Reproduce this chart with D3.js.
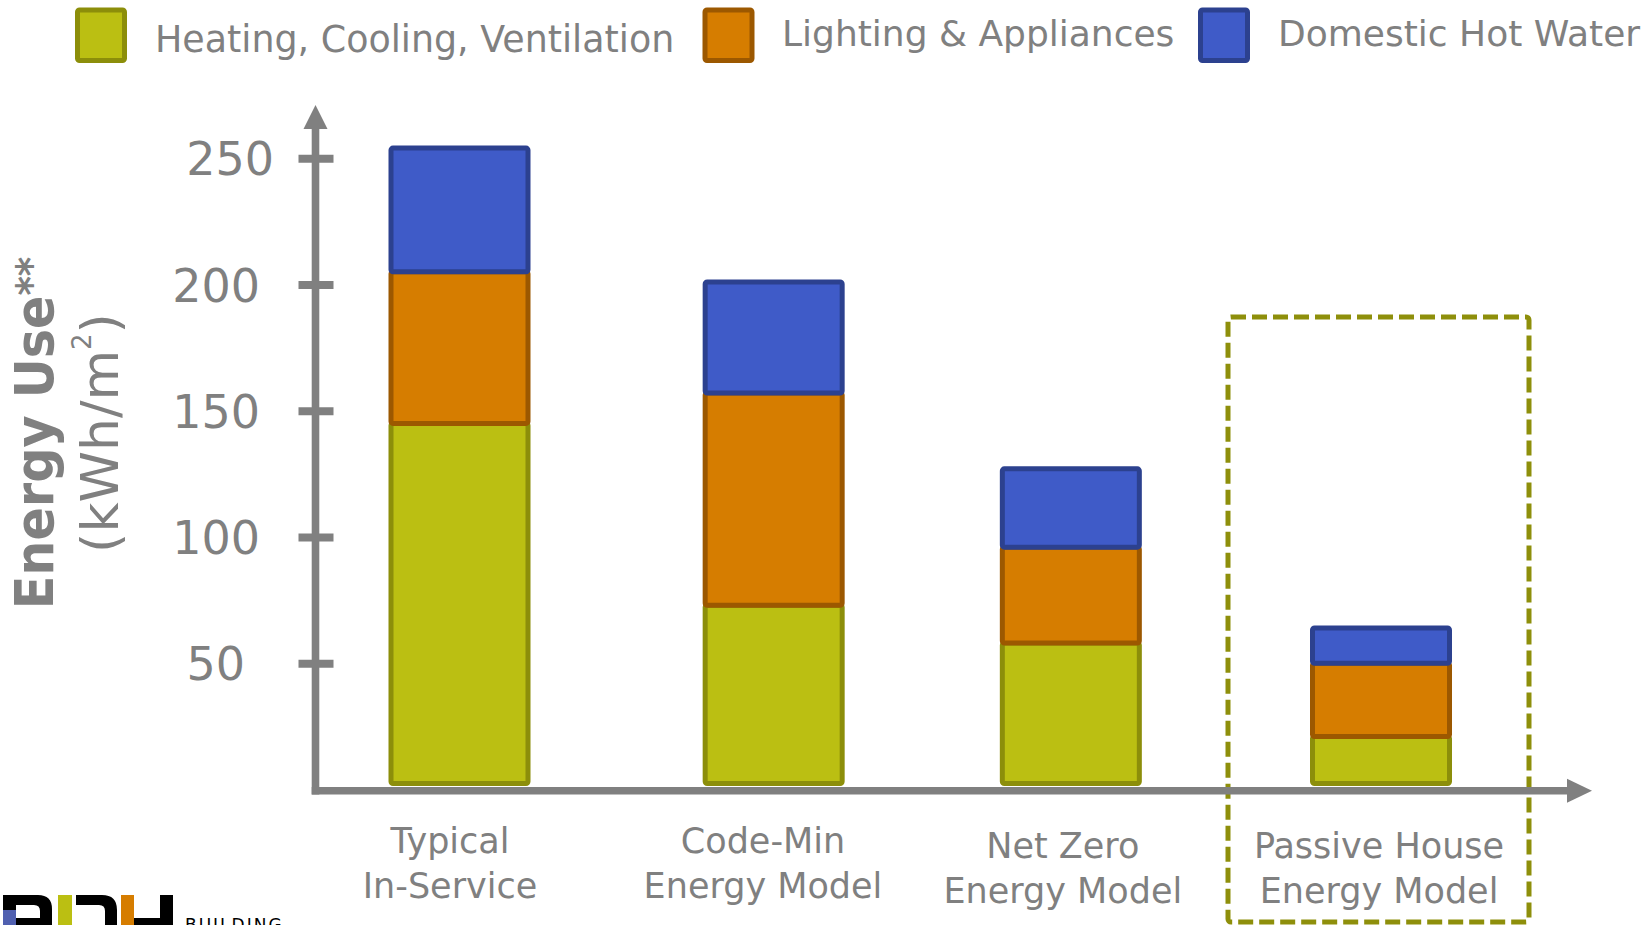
<!DOCTYPE html>
<html>
<head>
<meta charset="utf-8">
<script src="https://cdn.jsdelivr.net/npm/d3@7"></script>
<style>
  html, body { margin: 0; padding: 0; background: #ffffff; }
  svg { display: block; }
  text { font-family: "DejaVu Sans", "Lucida Grande", sans-serif; }
</style>
</head>
<body>
<svg id="chart" width="1652" height="925"></svg>
<script>
// ---------------- data ----------------
const categories = ["Typical In-Service", "Code-Min Energy Model", "Net Zero Energy Model", "Passive House Energy Model"];
const categoryLabelLines = [["Typical", "In-Service"], ["Code-Min", "Energy Model"], ["Net Zero", "Energy Model"], ["Passive House", "Energy Model"]];
const seriesNames = ["Heating, Cooling, Ventilation", "Lighting & Appliances", "Domestic Hot Water"];
const heatingCoolingVentilation = [145, 73, 58, 21];
const lightingAppliances = [60, 84, 38, 29];
const domesticHotWater = [49, 44, 31, 14];
const yTickValues = [50, 100, 150, 200, 250];
const highlightedCategory = "Passive House Energy Model";

// ---------------- styles ----------------
const fills = ["#BBBF12", "#D67D00", "#3F5BC8"];
const strokes = ["#8C8E0A", "#9C5800", "#2C418F"];
const gray = "#808080";
const barDx = [0, 7, -3, 0];        // hand placement nudges of the original drawing
const labelDx = [-9.5, -3.7, -11, -2];
const labelDy = [0, 0, 5, 5];

const svg = d3.select("#chart");

const rows = categories.map((c, i) => ({
  category: c,
  index: i,
  [seriesNames[0]]: heatingCoolingVentilation[i],
  [seriesNames[1]]: lightingAppliances[i],
  [seriesNames[2]]: domesticHotWater[i]
}));
const stacked = d3.stack().keys(seriesNames)(rows);

const axisX = 315.5;
const y = d3.scaleLinear().domain([0, 250]).range([789.6, 158.2]);
const x = d3.scalePoint().domain(categories).range([459.5, 1381]);
const barW = 137;
const baseLift = 6;

// ---------------- highlight box ----------------
svg.append("rect")
  .attr("x", x(highlightedCategory) - 153)
  .attr("y", 317)
  .attr("width", 301)
  .attr("height", 605)
  .attr("rx", 3)
  .attr("fill", "none")
  .attr("stroke", "#8E8F0B")
  .attr("stroke-width", 5)
  .attr("stroke-dasharray", "15,6");

// ---------------- bars ----------------
const layers = svg.append("g").selectAll("g")
  .data(stacked)
  .join("g")
  .attr("fill", (d, i) => fills[i])
  .attr("stroke", (d, i) => strokes[i]);

layers.selectAll("rect")
  .data(d => d)
  .join("rect")
  .attr("x", d => x(d.data.category) + barDx[d.data.index] - barW / 2)
  .attr("y", d => y(d[1]))
  .attr("width", barW)
  .attr("height", d => (y(d[0]) - (d[0] === 0 ? baseLift : 0)) - y(d[1]))
  .attr("rx", 2)
  .attr("stroke-width", 5);

// ---------------- axes ----------------
const axisY0 = y(0) + 1.1;
svg.append("line")
  .attr("x1", axisX - 3.8).attr("x2", 1570)
  .attr("y1", axisY0).attr("y2", axisY0)
  .attr("stroke", gray).attr("stroke-width", 7.4);
svg.append("path")
  .attr("d", `M1592,${axisY0} L1567,${axisY0 - 12} L1567,${axisY0 + 12} Z`)
  .attr("fill", gray);
svg.append("line")
  .attr("x1", axisX).attr("x2", axisX)
  .attr("y1", axisY0 + 3.7).attr("y2", 126)
  .attr("stroke", gray).attr("stroke-width", 7.6);
svg.append("path")
  .attr("d", `M${axisX},105 L${axisX - 12},129 L${axisX + 12},129 Z`)
  .attr("fill", gray);

const labelShift = {250: 14, 50: -15};
const yAxis = d3.axisLeft(y).tickValues(yTickValues).tickSize(0).tickPadding(0);
const gy = svg.append("g").attr("transform", `translate(${axisX},0)`).call(yAxis);
gy.select(".domain").remove();
gy.selectAll(".tick line")
  .attr("x1", -17).attr("x2", 18)
  .attr("stroke", gray).attr("stroke-width", 8);
gy.selectAll(".tick text")
  .attr("x", d => -55.5 + (labelShift[d] || 0))
  .attr("dy", "0.36em")
  .attr("fill", gray)
  .style("font-family", "'DejaVu Sans', sans-serif")
  .style("font-size", "46px");

// ---------------- category labels ----------------
categories.forEach((c, i) => {
  const t = svg.append("text")
    .attr("text-anchor", "middle")
    .attr("fill", gray)
    .style("font-size", "35px");
  categoryLabelLines[i].forEach((line, j) => {
    t.append("tspan")
      .attr("x", x(c) + labelDx[i])
      .attr("y", 853 + labelDy[i] + j * 45)
      .text(line);
  });
});

// ---------------- y title ----------------
const title = svg.append("text")
  .attr("transform", "translate(53,433) rotate(-90) scale(0.93,1)")
  .attr("text-anchor", "middle")
  .attr("fill", gray)
  .style("font-size", "53px")
  .style("font-weight", "bold");
title.append("tspan").text("Energy Use");
title.append("tspan").attr("dy", -8).style("font-size", "40px").text("**");

const unit = svg.append("text")
  .attr("transform", "translate(118,433) rotate(-90)")
  .attr("text-anchor", "middle")
  .attr("fill", gray)
  .style("font-size", "52px");
unit.append("tspan").text("(kWh/m");
unit.append("tspan").attr("dy", -27).style("font-size", "26px").text("2");
unit.append("tspan").attr("dy", 27).text(")");

// ---------------- legend ----------------
const legendSwatchX = [77.5, 705, 1200.5];
const legendTextX = [155, 782, 1278];
const legendTextY = [52, 46, 46];
seriesNames.forEach((name, i) => {
  svg.append("rect")
    .attr("x", legendSwatchX[i]).attr("y", 10)
    .attr("width", 47).attr("height", 50.5)
    .attr("rx", 2)
    .attr("fill", fills[i]).attr("stroke", strokes[i]).attr("stroke-width", 5);
  svg.append("text")
    .attr("x", legendTextX[i]).attr("y", legendTextY[i])
    .attr("fill", gray)
    .style("font-size", i === 0 ? "36.4px" : "36px")
    .text(name);
});

// ---------------- logo (partially cropped, as in the original) ----------------
const logo = svg.append("g");
logo.append("path").attr("fill", "#000")
  .attr("d", "M3,895 H38 Q52,895 52,909 V925 H40 V911 Q40,905 34,905 H16 V910 H3 Z");
logo.append("rect").attr("x", 16).attr("y", 918).attr("width", 24).attr("height", 7).attr("fill", "#000");
logo.append("rect").attr("x", 3).attr("y", 910).attr("width", 13).attr("height", 15).attr("fill", "#5060B0");
logo.append("rect").attr("x", 58).attr("y", 895).attr("width", 14).attr("height", 30).attr("fill", "#BBBF12");
logo.append("path").attr("fill", "#000")
  .attr("d", "M76,895 H102 Q117,895 117,910 V925 H105 V911 Q105,905 99,905 H76 Z");
logo.append("rect").attr("x", 121).attr("y", 895).attr("width", 13).attr("height", 30).attr("fill", "#D67D00");
logo.append("rect").attr("x", 134).attr("y", 918).attr("width", 28).attr("height", 7).attr("fill", "#000");
logo.append("rect").attr("x", 160).attr("y", 895).attr("width", 13).attr("height", 30).attr("fill", "#000");
logo.append("text").attr("x", 185).attr("y", 931)
  .attr("fill", "#000")
  .style("font-size", "17px")
  .style("letter-spacing", "2px")
  .text("BUILDING");
</script>
</body>
</html>
